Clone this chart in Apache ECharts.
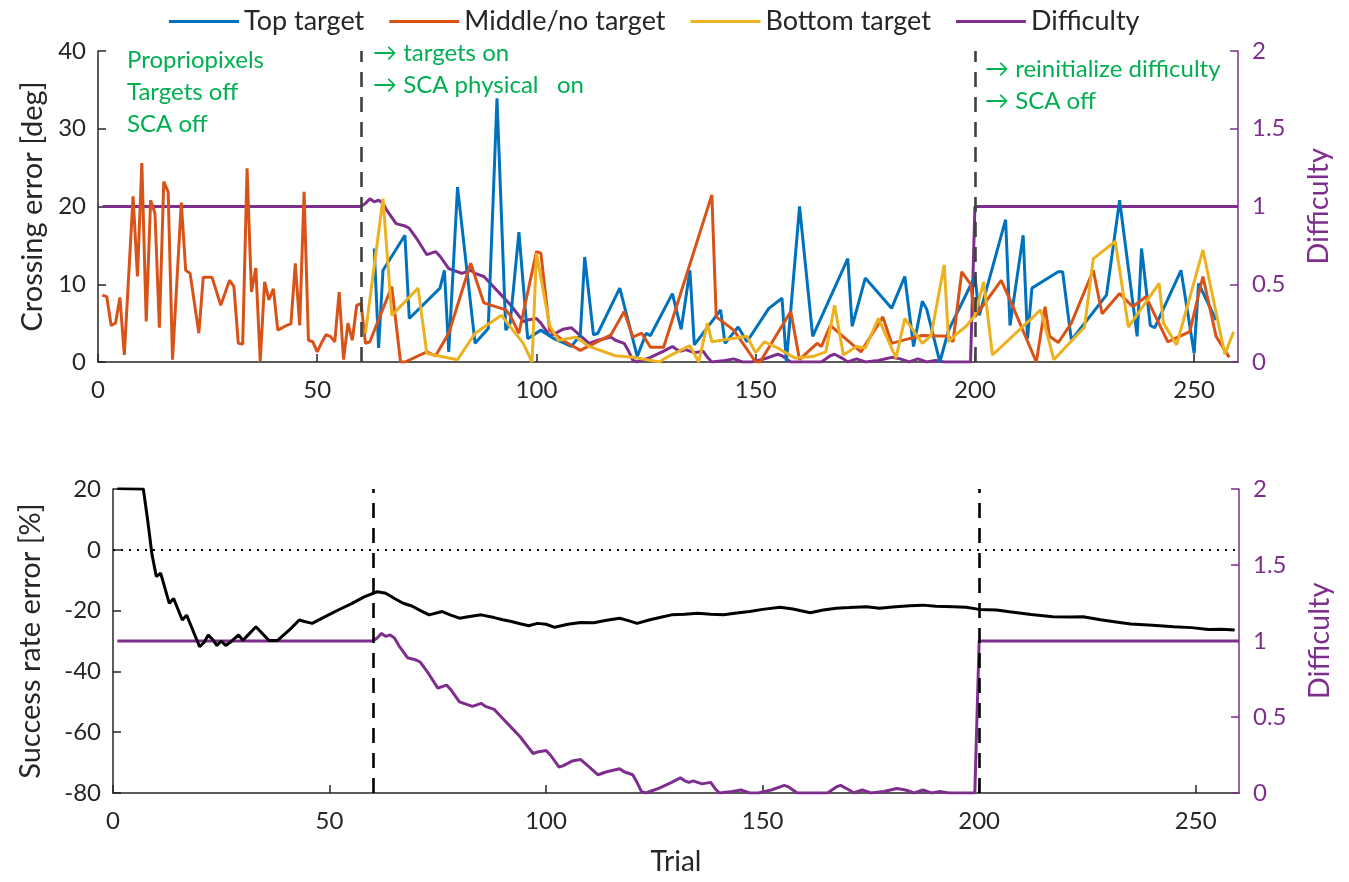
<!DOCTYPE html>
<html>
<head>
<meta charset="utf-8">
<script src="https://cdn.jsdelivr.net/npm/echarts@6/dist/echarts.min.js"></script>
<style>
  html, body { margin: 0; padding: 0; background: #ffffff; }
  #chart { width: 1349px; height: 882px; }
</style>
</head>
<body>
<div id="chart"></div>
<script>
// Crossing error per trial, split by target type: [trial, degrees]
const topTarget = [[63,14.6],[64,1.8],[65,11.8],[70,16.3],[71,5.6],[78,9.5],[79,11.8],[80,1.3],[82,22.5],[86,2.4],[89,4.3],[91,33.9],[93,4.1],[94,5],[96,16.7],[98,3],[101,4.1],[104,3],[108,2],[110,3.5],[111,13.5],[113,3.5],[114,3.7],[119,9.5],[123,0.7],[125,3.7],[126,3.4],[131,8.8],[133,4.2],[135,11.8],[136,2.2],[142,6.7],[143,2.4],[146,4.5],[148,2.6],[153,6.9],[156,8.2],[157,0],[160,20],[163,3.3],[171,13.3],[172,4.6],[175,10.8],[181,6.9],[184,11],[186,2],[188,7.8],[189,6.8],[192,0],[194,4.1],[200,11],[201,6],[207,18.3],[208,4.7],[211,16.3],[212,3],[213,9.5],[219,11.6],[220,11.6],[222,2.8],[230,8.6],[233,20.8],[237,3.3],[238,14.6],[240,4.7],[241,4.4],[247,11.8],[250,1.1],[251,10.1],[255,5.4]];

const middleTarget = [[1,8.6],[2,8.4],[3,4.7],[4,5.0],[5,8.3],[6,0.9],[8,21.3],[9,11],[10,25.6],[11,5.2],[12,20.8],[13,19.1],[14,4.4],[15,23.2],[16,21.9],[17,0.3],[19,20.5],[20,11.8],[21,11.4],[23,3.7],[24,10.9],[26,10.9],[28,7.3],[30,10.5],[31,9.7],[32,2.4],[33,2.3],[34,24.9],[35,9.0],[36,12.1],[37,0.1],[38,10.3],[39,8],[40,9.4],[41,4.1],[43,4.7],[44,4.9],[45,12.7],[46,4.7],[47,21.9],[48,2.8],[49,2.6],[50,1.3],[51,2.5],[52,3.5],[53,3.3],[54,2.6],[55,9],[56,0.3],[57,5],[58,2.8],[59,7.3],[60,7.5],[61,2.4],[62,2.6],[67,9.7],[69,0],[70,0],[75,1.3],[77,0.8],[80,3.7],[85,12.7],[88,7.6],[93,6.7],[94,6],[96,3.7],[100,14.2],[101,14],[103,4.1],[106,2.8],[110,1.5],[117,3.5],[120,6.5],[122,3.2],[124,3.7],[126,1.9],[129,1.9],[140,21.5],[141,5.8],[145,4.1],[150,0],[151,0],[158,6.5],[160,0.3],[164,2.4],[165,2],[167,4.7],[174,1.3],[179,5.8],[181,2.4],[185,3],[188,3.4],[194,3.3],[195,2.6],[197,11.6],[199,10],[200,5.8],[206,10.5],[208,8],[214,0],[216,7.1],[217,3.3],[219,2.5],[222,5],[227,11.8],[229,6.2],[233,8.8],[236,7.1],[239,8.4],[244,2.6],[249,3.9],[252,11],[255,3.3],[258,0.6]];

const bottomTarget = [[61,3.7],[65,21],[67,6],[73,9.5],[75,1.1],[82,0.3],[86,3.7],[92,6],[97,2.4],[99,0],[100,14],[103,4.7],[105,2.8],[109,3.2],[112,2],[118,0.8],[122,0.6],[128,0],[130,0.7],[135,2.1],[137,0],[139,5],[140,2.6],[148,3.3],[150,1.2],[152,2.6],[155,1.8],[159,0.5],[163,0.7],[166,1.3],[168,7.3],[170,0.9],[173,2],[175,1.8],[178,5.6],[182,0.5],[184,5.6],[188,2.4],[190,3.4],[193,12.5],[194,2.6],[196,3.7],[198,4.6],[200,6],[202,10.3],[204,0.9],[215,6.7],[218,0.3],[225,4.5],[227,13.3],[232,15.5],[235,4.5],[242,10.1],[243,5],[246,2.2],[252,14.4],[257,1],[259,3.9]];

// Task difficulty over trials: [trial, difficulty]
const difficulty = [[1,1],[60,1],[61,1.02],[62,1.05],[63,1.03],[64,1.04],[65,1.02],[66,0.97],[68,0.89],[70,0.875],[71,0.86],[73,0.78],[75,0.69],[77,0.71],[78,0.68],[80,0.6],[81,0.59],[83,0.57],[85,0.59],[86,0.57],[88,0.55],[90,0.49],[92,0.43],[94,0.37],[97,0.26],[98,0.27],[100,0.28],[101,0.25],[103,0.17],[104,0.18],[106,0.21],[108,0.22],[110,0.17],[112,0.12],[114,0.14],[117,0.16],[118,0.14],[120,0.12],[121,0.07],[122,0.01],[123,0],[126,0.03],[129,0.07],[131,0.1],[132,0.08],[133,0.07],[134,0.08],[136,0.06],[138,0.07],[139,0.03],[140,0],[143,0.01],[145,0.02],[147,0],[149,0],[152,0.02],[155,0.05],[156,0.04],[157,0.02],[158,0],[165,0],[167,0.04],[168,0.05],[170,0.02],[171,0],[173,0.02],[175,0],[178,0.01],[181,0.03],[183,0.02],[185,0],[187,0.02],[189,0],[191,0.01],[193,0],[199,0],[200,1],[260,1]];

// Running success rate error: [trial, %]
const successRateError = [[1,20.2],[7,20],[8,9.8],[9,-1.5],[10,-8.8],[11,-7.7],[13,-17.6],[14,-16],[16,-23.1],[17,-21.5],[20,-31.9],[21,-30.5],[22,-28],[23,-29.5],[24,-31.5],[25,-30],[26,-31.5],[27,-30.5],[29,-28],[30,-29.8],[33,-25.3],[36,-29.8],[38,-29.8],[41,-26],[43,-23.1],[44,-23.5],[46,-24.2],[49,-22],[52,-19.8],[55,-17.8],[58,-15.5],[61,-13.8],[63,-14.3],[65,-16],[67,-17.6],[69,-18.5],[71,-20],[73,-21.4],[76,-20.3],[78,-21.5],[80,-22.5],[82,-22],[85,-21.4],[88,-22.3],[90,-23],[92,-23.6],[94,-24.3],[96,-25],[98,-24.2],[100,-24.5],[102,-25.5],[105,-24.5],[108,-23.9],[111,-24],[114,-23.2],[117,-22.5],[119,-23.3],[121,-24.2],[124,-23],[127,-22],[129,-21.4],[132,-21.2],[135,-20.9],[138,-21.2],[141,-21.4],[144,-20.8],[147,-20.3],[150,-19.6],[154,-18.9],[157,-19.5],[161,-20.7],[164,-19.8],[167,-19.2],[170,-19],[174,-18.7],[177,-19.2],[180,-18.8],[184,-18.4],[187,-18.2],[190,-18.6],[194,-18.7],[197,-18.9],[200,-19.6],[204,-19.8],[207,-20.4],[212,-21.3],[217,-22],[221,-22.1],[224,-22],[228,-23],[232,-23.8],[235,-24.4],[240,-24.8],[245,-25.3],[249,-25.6],[253,-26.2],[256,-26.1],[259,-26.4]];

// Phase boundaries (trial numbers)
const phaseStarts = [60, 200];

const FONT = 'Lato';
const BLUE = '#0072BD', ORANGE = '#D95319', YELLOW = '#EDB120', PURPLE = '#7E2F8E', GREEN = '#00B050';

const chart = echarts.init(document.getElementById('chart'), null, { renderer: 'canvas' });

const xAxisBase = (gridIndex, name) => ({
  type: 'value', gridIndex, min: 0, max: 260, interval: 50,
  name, nameLocation: 'middle', nameGap: 55,
  nameTextStyle: { fontFamily: FONT, fontSize: 28, color: '#262626' },
  axisLine: { show: true, onZero: false, lineStyle: { color: '#262626', width: 1.5 } },
  axisTick: { show: true, inside: true, length: 8, lineStyle: { color: '#262626', width: 1.5 } },
  axisLabel: { fontFamily: FONT, fontSize: 24, color: '#262626', margin: 16, showMaxLabel: false },
  splitLine: { show: false }
});

const yAxisBase = (gridIndex, opts) => Object.assign({
  type: 'value', gridIndex, nameLocation: 'middle', nameRotate: 90,
  axisLine: { show: true, onZero: false, lineStyle: { color: '#262626', width: 1.5 } },
  axisTick: { show: true, inside: true, length: 8, lineStyle: { color: '#262626', width: 1.5 } },
  axisLabel: { fontFamily: FONT, fontSize: 24, color: '#262626', margin: 12 },
  nameTextStyle: { fontFamily: FONT, fontSize: 29, color: '#262626' },
  splitLine: { show: false }
}, opts);

const purpleAxis = (gridIndex) => yAxisBase(gridIndex, {
  position: 'right', min: 0, max: 2, interval: 0.5,
  name: 'Difficulty', nameGap: 66,
  axisLine: { show: true, onZero: false, lineStyle: { color: PURPLE, width: 1.5 } },
  axisTick: { show: true, inside: true, length: 8, lineStyle: { color: PURPLE, width: 1.5 } },
  axisLabel: { fontFamily: FONT, fontSize: 24, color: PURPLE, margin: 14 },
  nameTextStyle: { fontFamily: FONT, fontSize: 29, color: PURPLE }
});

const phaseLines = (color) => ({
  silent: true, symbol: 'none', label: { show: false },
  lineStyle: { color, type: [15, 10], width: 2.6 },
  data: phaseStarts.map(t => ({ xAxis: t }))
});

const lineSeries = (name, data, color, xi, yi, extra) => Object.assign({
  name, type: 'line', data, xAxisIndex: xi, yAxisIndex: yi,
  symbol: 'none', showSymbol: false, clip: true,
  lineStyle: { color, width: 3 }, itemStyle: { color },
  emphasis: { disabled: true }
}, extra || {});

const annotation = (text, x, y) => ({
  type: 'text', left: x, top: y,
  style: { text, fontFamily: FONT, fontSize: 24, fill: GREEN }
});

chart.setOption({
  animation: false,
  backgroundColor: '#ffffff',
  legend: {
    left: 164, top: 3, itemGap: 25, itemWidth: 70, itemHeight: 3,
    icon: 'rect',
    textStyle: { fontFamily: FONT, fontSize: 27, color: '#262626' },
    data: ['Top target', 'Middle/no target', 'Bottom target', 'Difficulty']
  },
  grid: [
    { left: 98, right: 111, top: 51, height: 311 },
    { left: 113, right: 110, top: 489, height: 304 }
  ],
  xAxis: [
    xAxisBase(0, ''),
    xAxisBase(1, 'Trial')
  ],
  yAxis: [
    yAxisBase(0, { min: 0, max: 40, interval: 10, name: 'Crossing error [deg]', nameGap: 51 }),
    purpleAxis(0),
    yAxisBase(1, { min: -80, max: 20, interval: 20, name: 'Success rate error [%]', nameGap: 68 }),
    purpleAxis(1)
  ],
  series: [
    lineSeries('Difficulty', difficulty, PURPLE, 0, 1, { markLine: phaseLines('#404040') }),
    lineSeries('Top target', topTarget, BLUE, 0, 0),
    lineSeries('Middle/no target', middleTarget, ORANGE, 0, 0),
    lineSeries('Bottom target', bottomTarget, YELLOW, 0, 0),
    lineSeries('Difficulty', difficulty, PURPLE, 1, 3),
    lineSeries('Success rate error', successRateError, '#000000', 1, 2, {
      markLine: {
        silent: true, symbol: 'none', label: { show: false },
        data: [
          { yAxis: 0, lineStyle: { color: '#000000', type: [2, 6], width: 2.2 } },
          ...phaseStarts.map(t => ({ xAxis: t, lineStyle: { color: '#000000', type: [15, 10], width: 2.6 } }))
        ]
      }
    })
  ],
  graphic: [
    annotation('Propriopixels', 127, 48),
    annotation('Targets off', 127, 80),
    annotation('SCA off', 127, 112),
    annotation('\u2192 targets on', 373, 41),
    annotation('\u2192 SCA physical   on', 373, 73),
    annotation('\u2192 reinitialize difficulty', 985, 57),
    annotation('\u2192 SCA off', 985, 89)
  ]
});
</script>
</body>
</html>
